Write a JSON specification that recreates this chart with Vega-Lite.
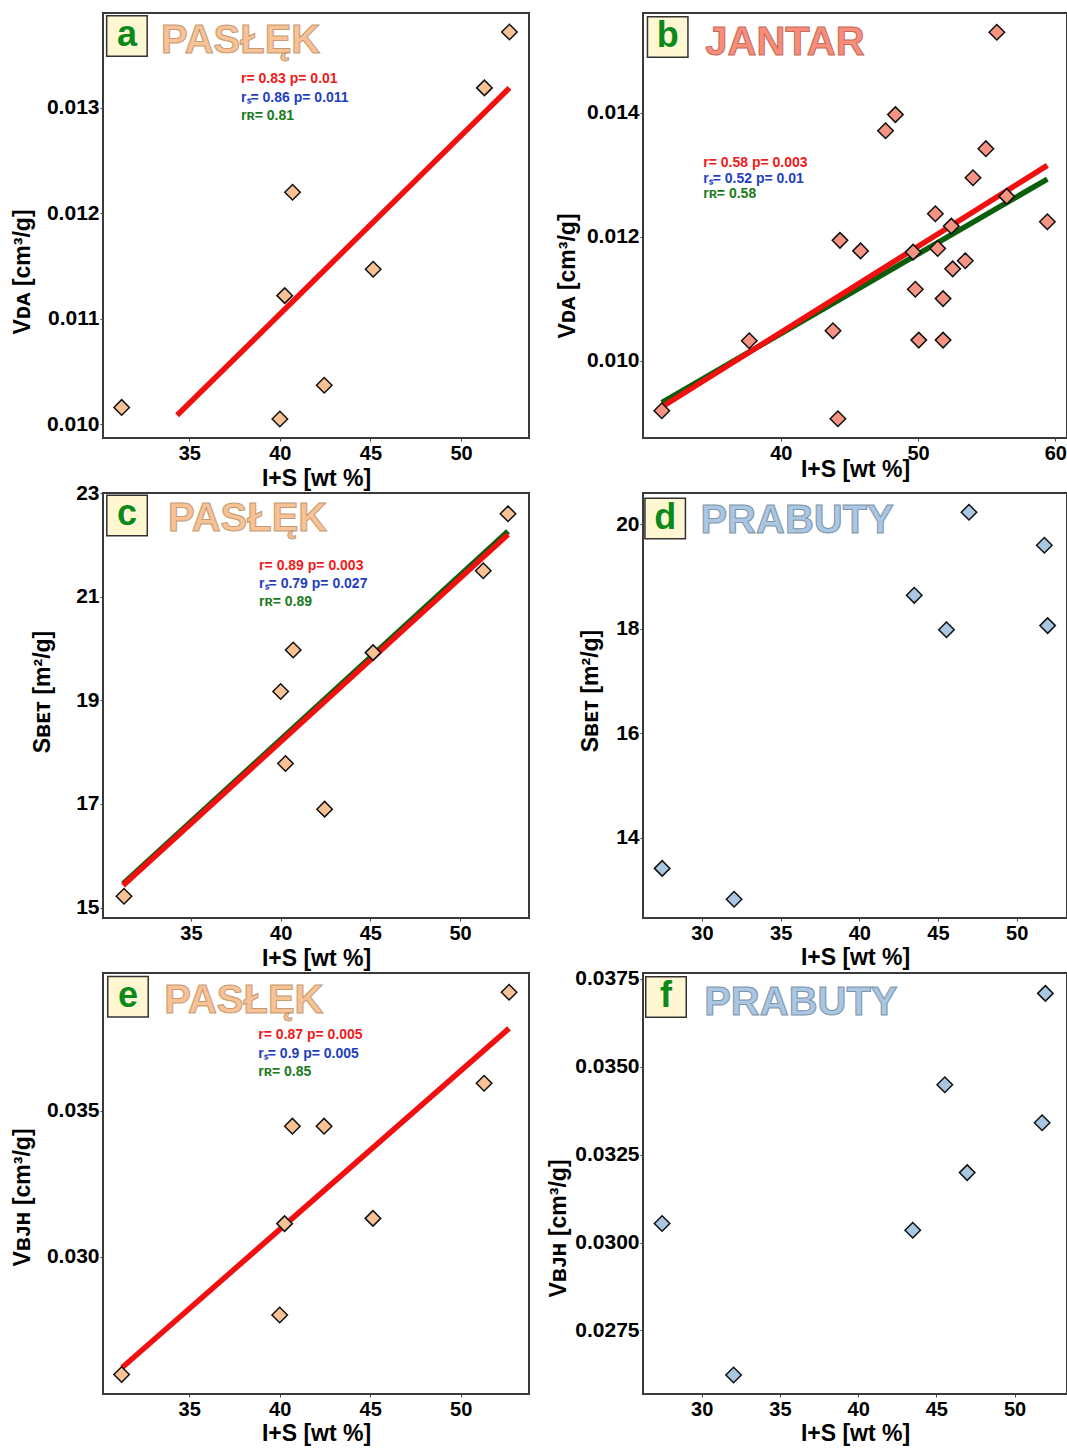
{
  "$schema": "https://vega.github.io/schema/vega-lite/v6.json",
  "padding": {"left": 10, "top": 11, "right": 0, "bottom": 0},
  "background": "white",
  "datasets": {
    "paslek": [
      {"IS": 31.27, "VDA": 0.01016, "SBET": 15.22, "VBJH": 0.02596},
      {"IS": 40.0, "VDA": 0.01005, "SBET": 19.17, "VBJH": 0.0280},
      {"IS": 40.27, "VDA": 0.01122, "SBET": 17.78, "VBJH": 0.03113},
      {"IS": 40.7, "VDA": 0.0122, "SBET": 19.97, "VBJH": 0.03447},
      {"IS": 42.45, "VDA": 0.01037, "SBET": 16.90, "VBJH": 0.03447},
      {"IS": 45.15, "VDA": 0.01147, "SBET": 19.92, "VBJH": 0.03131},
      {"IS": 51.29, "VDA": 0.01319, "SBET": 21.5, "VBJH": 0.03594},
      {"IS": 52.67, "VDA": 0.01372, "SBET": 22.6, "VBJH": 0.03906}
    ],
    "jantar": [
      {"IS": 31.33, "VDA": 0.00919},
      {"IS": 37.7, "VDA": 0.01032},
      {"IS": 43.8, "VDA": 0.01048},
      {"IS": 44.16, "VDA": 0.00906},
      {"IS": 44.31, "VDA": 0.01194},
      {"IS": 45.81, "VDA": 0.01177},
      {"IS": 47.63, "VDA": 0.01371},
      {"IS": 48.35, "VDA": 0.01397},
      {"IS": 49.64, "VDA": 0.01175},
      {"IS": 49.8, "VDA": 0.01115},
      {"IS": 50.05, "VDA": 0.01033},
      {"IS": 51.26, "VDA": 0.01237},
      {"IS": 51.43, "VDA": 0.01181},
      {"IS": 51.82, "VDA": 0.01100},
      {"IS": 51.82, "VDA": 0.01033},
      {"IS": 52.42, "VDA": 0.01217},
      {"IS": 52.52, "VDA": 0.01148},
      {"IS": 53.44, "VDA": 0.01161},
      {"IS": 54.0, "VDA": 0.01295},
      {"IS": 54.94, "VDA": 0.01342},
      {"IS": 55.74, "VDA": 0.0153},
      {"IS": 56.46, "VDA": 0.01265},
      {"IS": 59.42, "VDA": 0.01224}
    ],
    "prabuty": [
      {"IS": 27.47, "SBET": 13.41, "VBJH": 0.03054},
      {"IS": 32.04, "SBET": 12.82, "VBJH": 0.02623},
      {"IS": 43.49, "SBET": 18.64, "VBJH": 0.03035},
      {"IS": 45.54, "SBET": 17.98, "VBJH": 0.03449},
      {"IS": 46.97, "SBET": 20.23, "VBJH": 0.03199},
      {"IS": 51.76, "SBET": 19.6, "VBJH": 0.03341},
      {"IS": 51.97, "SBET": 18.06, "VBJH": 0.03709}
    ],
    "fits": [
      {"panel": "a", "fit": "pearson", "x": 34.33, "y": 0.010085},
      {"panel": "a", "fit": "pearson", "x": 52.67, "y": 0.01319},
      {"panel": "b", "fit": "robust", "x": 31.33, "y": 0.00932},
      {"panel": "b", "fit": "robust", "x": 59.42, "y": 0.01293},
      {"panel": "b", "fit": "pearson", "x": 31.33, "y": 0.00925},
      {"panel": "b", "fit": "pearson", "x": 59.42, "y": 0.01315},
      {"panel": "c", "fit": "robust", "x": 31.22, "y": 15.46},
      {"panel": "c", "fit": "robust", "x": 52.67, "y": 22.26},
      {"panel": "c", "fit": "pearson", "x": 31.22, "y": 15.43},
      {"panel": "c", "fit": "pearson", "x": 52.67, "y": 22.2},
      {"panel": "e", "fit": "pearson", "x": 31.3, "y": 0.0262},
      {"panel": "e", "fit": "pearson", "x": 52.67, "y": 0.03782}
    ]
  },
  "config": {
    "view": {"stroke": "#3a3a3a", "strokeWidth": 2},
    "axis": {
      "grid": false, "domain": false, "tickColor": "#444", "tickSize": 3, "tickWidth": 1,
      "labelFont": "Liberation Sans", "labelFontSize": 21, "labelFontWeight": "bold", "labelColor": "#000",
      "titleFont": "Liberation Sans", "titleFontWeight": "bold", "titleColor": "#000", "titleFontSize": 23,
      "labelPadding": 2, "labelOverlap": false, "labelFlush": false
    },
    "axisX": {"labelFontSize": 20},
    "axisY": {"labelPadding": 1},
    "text": {"font": "Liberation Sans", "fontWeight": "bold"}
  },
  "columns": 2,
  "bounds": "flush",
  "spacing": {"row": 55, "column": 114},
  "concat": [
    {
      "width": 426, "height": 425,
      "layer": [
        {"data": {"name": "fits"}, "transform": [{"filter": "datum.panel == 'a' && datum.fit == 'pearson'"}],
         "mark": {"type": "line", "color": "#f01010", "strokeWidth": 5.5, "strokeCap": "butt"},
         "encoding": {
           "x": {"field": "x", "type": "quantitative", "title": "I+S [wt %]", "scale": {"domain": [30.24, 53.75], "nice": false, "zero": false},
                 "axis": {"values": [35, 40, 45, 50], "titlePadding": 4}},
           "y": {"field": "y", "type": "quantitative", "title": "Vᴅᴀ [cm³/g]", "scale": {"domain": [0.00987, 0.0139], "nice": false, "zero": false},
                 "axis": {"values": [0.010, 0.011, 0.012, 0.013], "format": ".3f", "titlePadding": 11.5, "titleY": 258.5}}
         }},
        {"data": {"name": "paslek"},
         "mark": {"type": "point", "shape": "diamond", "size": 240, "filled": true, "fill": "#F8C294", "stroke": "#111", "strokeWidth": 1.5, "opacity": 1},
         "encoding": {
           "x": {"field": "IS", "type": "quantitative", "title": "I+S [wt %]", "scale": {"domain": [30.24, 53.75], "nice": false, "zero": false}},
           "y": {"field": "VDA", "type": "quantitative", "title": "Vᴅᴀ [cm³/g]", "scale": {"domain": [0.00987, 0.0139], "nice": false, "zero": false}}
         }},
        {"data": {"values": [{}]},
         "mark": {"type": "point", "shape": "square", "size": 1640, "filled": true, "fill": "#FFF6D2", "stroke": "#333", "strokeWidth": 1.5, "opacity": 1},
         "encoding": {"x": {"datum": 31.56, "type": "quantitative", "title": "I+S [wt %]"}, "y": {"datum": 0.013682, "type": "quantitative", "title": "Vᴅᴀ [cm³/g]"}}},
        {"data": {"values": [{}]},
         "mark": {"type": "text", "text": "a", "fontSize": 36, "color": "#0B8A1B", "align": "center", "baseline": "alphabetic", "dy": 10},
         "encoding": {"x": {"datum": 31.56, "type": "quantitative", "title": "I+S [wt %]"}, "y": {"datum": 0.013682, "type": "quantitative", "title": "Vᴅᴀ [cm³/g]"}}},
        {"data": {"values": [{}]},
         "mark": {"type": "text", "text": "PASŁĘK", "fontSize": 40, "fill": "#F8C294", "stroke": "#C49A74", "strokeWidth": 1, "align": "left", "baseline": "alphabetic"},
         "encoding": {"x": {"datum": 33.44, "type": "quantitative", "title": "I+S [wt %]"}, "y": {"datum": 0.013521, "type": "quantitative", "title": "Vᴅᴀ [cm³/g]"}}},
        {"data": {"values": [{}]},
         "mark": {"type": "text", "text": "r= 0.83 p= 0.01", "fontSize": 14, "color": "#F01A1A", "align": "left", "baseline": "alphabetic"},
         "encoding": {"x": {"datum": 37.86, "type": "quantitative", "title": "I+S [wt %]"}, "y": {"datum": 0.013236, "type": "quantitative", "title": "Vᴅᴀ [cm³/g]"}}},
        {"data": {"values": [{}]},
         "mark": {"type": "text", "text": "rₛ= 0.86 p= 0.011", "fontSize": 14, "color": "#1F3FBF", "align": "left", "baseline": "alphabetic"},
         "encoding": {"x": {"datum": 37.86, "type": "quantitative", "title": "I+S [wt %]"}, "y": {"datum": 0.013056, "type": "quantitative", "title": "Vᴅᴀ [cm³/g]"}}},
        {"data": {"values": [{}]},
         "mark": {"type": "text", "text": "rʀ= 0.81", "fontSize": 14, "color": "#1A7A1A", "align": "left", "baseline": "alphabetic"},
         "encoding": {"x": {"datum": 37.86, "type": "quantitative", "title": "I+S [wt %]"}, "y": {"datum": 0.012885, "type": "quantitative", "title": "Vᴅᴀ [cm³/g]"}}}
      ]
    },
    {
      "width": 424, "height": 425,
      "layer": [
        {"data": {"name": "fits"}, "transform": [{"filter": "datum.panel == 'b' && datum.fit == 'robust'"}],
         "mark": {"type": "line", "color": "#0B5E0B", "strokeWidth": 5.5, "strokeCap": "butt"},
         "encoding": {
           "x": {"field": "x", "type": "quantitative", "title": "I+S [wt %]", "scale": {"domain": [29.96, 60.85], "nice": false, "zero": false},
                 "axis": {"values": [40, 50, 60], "titlePadding": -5}},
           "y": {"field": "y", "type": "quantitative", "title": "Vᴅᴀ [cm³/g]", "scale": {"domain": [0.00875, 0.01561], "nice": false, "zero": false},
                 "axis": {"values": [0.010, 0.012, 0.014], "format": ".3f", "titlePadding": 6.5, "titleY": 262.5}}
         }},
        {"data": {"name": "fits"}, "transform": [{"filter": "datum.panel == 'b' && datum.fit == 'pearson'"}],
         "mark": {"type": "line", "color": "#f01010", "strokeWidth": 5.5, "strokeCap": "butt"},
         "encoding": {
           "x": {"field": "x", "type": "quantitative", "title": "I+S [wt %]", "scale": {"domain": [29.96, 60.85], "nice": false, "zero": false}},
           "y": {"field": "y", "type": "quantitative", "title": "Vᴅᴀ [cm³/g]", "scale": {"domain": [0.00875, 0.01561], "nice": false, "zero": false}}
         }},
        {"data": {"name": "jantar"},
         "mark": {"type": "point", "shape": "diamond", "size": 240, "filled": true, "fill": "#F79382", "stroke": "#111", "strokeWidth": 1.5, "opacity": 1},
         "encoding": {
           "x": {"field": "IS", "type": "quantitative", "title": "I+S [wt %]", "scale": {"domain": [29.96, 60.85], "nice": false, "zero": false}},
           "y": {"field": "VDA", "type": "quantitative", "title": "Vᴅᴀ [cm³/g]", "scale": {"domain": [0.00875, 0.01561], "nice": false, "zero": false}}
         }},
        {"data": {"values": [{}]},
         "mark": {"type": "point", "shape": "square", "size": 1640, "filled": true, "fill": "#FFF6D2", "stroke": "#333", "strokeWidth": 1.5, "opacity": 1},
         "encoding": {"x": {"datum": 31.76, "type": "quantitative", "title": "I+S [wt %]"}, "y": {"datum": 0.015224, "type": "quantitative", "title": "Vᴅᴀ [cm³/g]"}}},
        {"data": {"values": [{}]},
         "mark": {"type": "text", "text": "b", "fontSize": 36, "color": "#0B8A1B", "align": "center", "baseline": "alphabetic", "dy": 10},
         "encoding": {"x": {"datum": 31.76, "type": "quantitative", "title": "I+S [wt %]"}, "y": {"datum": 0.015224, "type": "quantitative", "title": "Vᴅᴀ [cm³/g]"}}},
        {"data": {"values": [{}]},
         "mark": {"type": "text", "text": "JANTAR", "fontSize": 40, "fill": "#F88E7A", "stroke": "#C46A5A", "strokeWidth": 1, "align": "left", "baseline": "alphabetic"},
         "encoding": {"x": {"datum": 34.5, "type": "quantitative", "title": "I+S [wt %]"}, "y": {"datum": 0.014935, "type": "quantitative", "title": "Vᴅᴀ [cm³/g]"}}},
        {"data": {"values": [{}]},
         "mark": {"type": "text", "text": "r= 0.58 p= 0.003", "fontSize": 14, "color": "#F01A1A", "align": "left", "baseline": "alphabetic"},
         "encoding": {"x": {"datum": 34.35, "type": "quantitative", "title": "I+S [wt %]"}, "y": {"datum": 0.01312, "type": "quantitative", "title": "Vᴅᴀ [cm³/g]"}}},
        {"data": {"values": [{}]},
         "mark": {"type": "text", "text": "rₛ= 0.52 p= 0.01", "fontSize": 14, "color": "#1F3FBF", "align": "left", "baseline": "alphabetic"},
         "encoding": {"x": {"datum": 34.35, "type": "quantitative", "title": "I+S [wt %]"}, "y": {"datum": 0.012863, "type": "quantitative", "title": "Vᴅᴀ [cm³/g]"}}},
        {"data": {"values": [{}]},
         "mark": {"type": "text", "text": "rʀ= 0.58", "fontSize": 14, "color": "#1A7A1A", "align": "left", "baseline": "alphabetic"},
         "encoding": {"x": {"datum": 34.35, "type": "quantitative", "title": "I+S [wt %]"}, "y": {"datum": 0.012622, "type": "quantitative", "title": "Vᴅᴀ [cm³/g]"}}}
      ]
    },
    {
      "width": 426, "height": 425,
      "layer": [
        {"data": {"name": "fits"}, "transform": [{"filter": "datum.panel == 'c' && datum.fit == 'robust'"}],
         "mark": {"type": "line", "color": "#0B5E0B", "strokeWidth": 5.5, "strokeCap": "butt"},
         "encoding": {
           "x": {"field": "x", "type": "quantitative", "title": "I+S [wt %]", "scale": {"domain": [30.1, 53.84], "nice": false, "zero": false},
                 "axis": {"values": [35, 40, 45, 50], "titlePadding": 4}},
           "y": {"field": "y", "type": "quantitative", "title": "Sʙᴇᴛ [m²/g]", "scale": {"domain": [14.8, 23.0], "nice": false, "zero": false},
                 "axis": {"values": [15, 17, 19, 21, 23], "format": "d", "titlePadding": 21, "titleY": 198.5}}
         }},
        {"data": {"name": "fits"}, "transform": [{"filter": "datum.panel == 'c' && datum.fit == 'pearson'"}],
         "mark": {"type": "line", "color": "#f01010", "strokeWidth": 5.5, "strokeCap": "butt"},
         "encoding": {
           "x": {"field": "x", "type": "quantitative", "title": "I+S [wt %]", "scale": {"domain": [30.1, 53.84], "nice": false, "zero": false}},
           "y": {"field": "y", "type": "quantitative", "title": "Sʙᴇᴛ [m²/g]", "scale": {"domain": [14.8, 23.0], "nice": false, "zero": false}}
         }},
        {"data": {"name": "paslek"},
         "mark": {"type": "point", "shape": "diamond", "size": 240, "filled": true, "fill": "#F8C294", "stroke": "#111", "strokeWidth": 1.5, "opacity": 1},
         "encoding": {
           "x": {"field": "IS", "type": "quantitative", "title": "I+S [wt %]", "scale": {"domain": [30.1, 53.84], "nice": false, "zero": false}},
           "y": {"field": "SBET", "type": "quantitative", "title": "Sʙᴇᴛ [m²/g]", "scale": {"domain": [14.8, 23.0], "nice": false, "zero": false}}
         }},
        {"data": {"values": [{}]},
         "mark": {"type": "point", "shape": "square", "size": 1640, "filled": true, "fill": "#FFF6D2", "stroke": "#333", "strokeWidth": 1.5, "opacity": 1},
         "encoding": {"x": {"datum": 31.44, "type": "quantitative", "title": "I+S [wt %]"}, "y": {"datum": 22.566, "type": "quantitative", "title": "Sʙᴇᴛ [m²/g]"}}},
        {"data": {"values": [{}]},
         "mark": {"type": "text", "text": "c", "fontSize": 36, "color": "#0B8A1B", "align": "center", "baseline": "alphabetic", "dy": 10},
         "encoding": {"x": {"datum": 31.44, "type": "quantitative", "title": "I+S [wt %]"}, "y": {"datum": 22.566, "type": "quantitative", "title": "Sʙᴇᴛ [m²/g]"}}},
        {"data": {"values": [{}]},
         "mark": {"type": "text", "text": "PASŁĘK", "fontSize": 40, "fill": "#F8C294", "stroke": "#C49A74", "strokeWidth": 1, "align": "left", "baseline": "alphabetic"},
         "encoding": {"x": {"datum": 33.72, "type": "quantitative", "title": "I+S [wt %]"}, "y": {"datum": 22.267, "type": "quantitative", "title": "Sʙᴇᴛ [m²/g]"}}},
        {"data": {"values": [{}]},
         "mark": {"type": "text", "text": "r= 0.89 p= 0.003", "fontSize": 14, "color": "#F01A1A", "align": "left", "baseline": "alphabetic"},
         "encoding": {"x": {"datum": 38.8, "type": "quantitative", "title": "I+S [wt %]"}, "y": {"datum": 21.514, "type": "quantitative", "title": "Sʙᴇᴛ [m²/g]"}}},
        {"data": {"values": [{}]},
         "mark": {"type": "text", "text": "rₛ= 0.79 p= 0.027", "fontSize": 14, "color": "#1F3FBF", "align": "left", "baseline": "alphabetic"},
         "encoding": {"x": {"datum": 38.8, "type": "quantitative", "title": "I+S [wt %]"}, "y": {"datum": 21.167, "type": "quantitative", "title": "Sʙᴇᴛ [m²/g]"}}},
        {"data": {"values": [{}]},
         "mark": {"type": "text", "text": "rʀ= 0.89", "fontSize": 14, "color": "#1A7A1A", "align": "left", "baseline": "alphabetic"},
         "encoding": {"x": {"datum": 38.8, "type": "quantitative", "title": "I+S [wt %]"}, "y": {"datum": 20.82, "type": "quantitative", "title": "Sʙᴇᴛ [m²/g]"}}}
      ]
    },
    {
      "width": 424, "height": 425,
      "layer": [
        {"data": {"name": "prabuty"},
         "mark": {"type": "point", "shape": "diamond", "size": 240, "filled": true, "fill": "#A9C6E2", "stroke": "#111", "strokeWidth": 1.5, "opacity": 1},
         "encoding": {
           "x": {"field": "IS", "type": "quantitative", "title": "I+S [wt %]", "scale": {"domain": [26.25, 53.2], "nice": false, "zero": false},
                 "axis": {"values": [30, 35, 40, 45, 50], "titlePadding": 3}},
           "y": {"field": "SBET", "type": "quantitative", "title": "Sʙᴇᴛ [m²/g]", "scale": {"domain": [12.46, 20.6], "nice": false, "zero": false},
                 "axis": {"values": [14, 16, 18, 20], "format": "d", "titlePadding": 13, "titleY": 197.5}}
         }},
        {"data": {"values": [{}]},
         "mark": {"type": "point", "shape": "square", "size": 1640, "filled": true, "fill": "#FFF6D2", "stroke": "#333", "strokeWidth": 1.5, "opacity": 1},
         "encoding": {"x": {"datum": 27.66, "type": "quantitative", "title": "I+S [wt %]"}, "y": {"datum": 20.11, "type": "quantitative", "title": "Sʙᴇᴛ [m²/g]"}}},
        {"data": {"values": [{}]},
         "mark": {"type": "text", "text": "d", "fontSize": 36, "color": "#0B8A1B", "align": "center", "baseline": "alphabetic", "dy": 10},
         "encoding": {"x": {"datum": 27.66, "type": "quantitative", "title": "I+S [wt %]"}, "y": {"datum": 20.11, "type": "quantitative", "title": "Sʙᴇᴛ [m²/g]"}}},
        {"data": {"values": [{}]},
         "mark": {"type": "text", "text": "PRABUTY", "fontSize": 40, "fill": "#A9C6E2", "stroke": "#7F93A8", "strokeWidth": 1, "align": "left", "baseline": "alphabetic"},
         "encoding": {"x": {"datum": 29.9, "type": "quantitative", "title": "I+S [wt %]"}, "y": {"datum": 19.832, "type": "quantitative", "title": "Sʙᴇᴛ [m²/g]"}}}
      ]
    },
    {
      "width": 426, "height": 421,
      "layer": [
        {"data": {"name": "fits"}, "transform": [{"filter": "datum.panel == 'e' && datum.fit == 'pearson'"}],
         "mark": {"type": "line", "color": "#f01010", "strokeWidth": 5.5, "strokeCap": "butt"},
         "encoding": {
           "x": {"field": "x", "type": "quantitative", "title": "I+S [wt %]", "scale": {"domain": [30.24, 53.77], "nice": false, "zero": false},
                 "axis": {"values": [35, 40, 45, 50], "titlePadding": 3}},
           "y": {"field": "y", "type": "quantitative", "title": "Vʙᴊʜ [cm³/g]", "scale": {"domain": [0.025293, 0.039718], "nice": false, "zero": false},
                 "axis": {"values": [0.030, 0.035], "format": ".3f", "titlePadding": 11.5, "titleY": 224}}
         }},
        {"data": {"name": "paslek"},
         "mark": {"type": "point", "shape": "diamond", "size": 240, "filled": true, "fill": "#F8C294", "stroke": "#111", "strokeWidth": 1.5, "opacity": 1},
         "encoding": {
           "x": {"field": "IS", "type": "quantitative", "title": "I+S [wt %]", "scale": {"domain": [30.24, 53.77], "nice": false, "zero": false}},
           "y": {"field": "VBJH", "type": "quantitative", "title": "Vʙᴊʜ [cm³/g]", "scale": {"domain": [0.025293, 0.039718], "nice": false, "zero": false}}
         }},
        {"data": {"values": [{}]},
         "mark": {"type": "point", "shape": "square", "size": 1640, "filled": true, "fill": "#FFF6D2", "stroke": "#333", "strokeWidth": 1.5, "opacity": 1},
         "encoding": {"x": {"datum": 31.62, "type": "quantitative", "title": "I+S [wt %]"}, "y": {"datum": 0.038903, "type": "quantitative", "title": "Vʙᴊʜ [cm³/g]"}}},
        {"data": {"values": [{}]},
         "mark": {"type": "text", "text": "e", "fontSize": 36, "color": "#0B8A1B", "align": "center", "baseline": "alphabetic", "dy": 10},
         "encoding": {"x": {"datum": 31.62, "type": "quantitative", "title": "I+S [wt %]"}, "y": {"datum": 0.038903, "type": "quantitative", "title": "Vʙᴊʜ [cm³/g]"}}},
        {"data": {"values": [{}]},
         "mark": {"type": "text", "text": "PASŁĘK", "fontSize": 40, "fill": "#F8C294", "stroke": "#C49A74", "strokeWidth": 1, "align": "left", "baseline": "alphabetic"},
         "encoding": {"x": {"datum": 33.62, "type": "quantitative", "title": "I+S [wt %]"}, "y": {"datum": 0.03836, "type": "quantitative", "title": "Vʙᴊʜ [cm³/g]"}}},
        {"data": {"values": [{}]},
         "mark": {"type": "text", "text": "r= 0.87 p= 0.005", "fontSize": 14, "color": "#F01A1A", "align": "left", "baseline": "alphabetic"},
         "encoding": {"x": {"datum": 38.82, "type": "quantitative", "title": "I+S [wt %]"}, "y": {"datum": 0.037444, "type": "quantitative", "title": "Vʙᴊʜ [cm³/g]"}}},
        {"data": {"values": [{}]},
         "mark": {"type": "text", "text": "rₛ= 0.9 p= 0.005", "fontSize": 14, "color": "#1F3FBF", "align": "left", "baseline": "alphabetic"},
         "encoding": {"x": {"datum": 38.82, "type": "quantitative", "title": "I+S [wt %]"}, "y": {"datum": 0.036799, "type": "quantitative", "title": "Vʙᴊʜ [cm³/g]"}}},
        {"data": {"values": [{}]},
         "mark": {"type": "text", "text": "rʀ= 0.85", "fontSize": 14, "color": "#1A7A1A", "align": "left", "baseline": "alphabetic"},
         "encoding": {"x": {"datum": 38.82, "type": "quantitative", "title": "I+S [wt %]"}, "y": {"datum": 0.036188, "type": "quantitative", "title": "Vʙᴊʜ [cm³/g]"}}}
      ]
    },
    {
      "width": 424, "height": 421,
      "layer": [
        {"data": {"name": "prabuty"},
         "mark": {"type": "point", "shape": "diamond", "size": 240, "filled": true, "fill": "#A9C6E2", "stroke": "#111", "strokeWidth": 1.5, "opacity": 1},
         "encoding": {
           "x": {"field": "IS", "type": "quantitative", "title": "I+S [wt %]", "scale": {"domain": [26.25, 53.35], "nice": false, "zero": false},
                 "axis": {"values": [30, 35, 40, 45, 50], "titlePadding": 3}},
           "y": {"field": "VBJH", "type": "quantitative", "title": "Vʙᴊʜ [cm³/g]", "scale": {"domain": [0.02569, 0.03767], "nice": false, "zero": false},
                 "axis": {"values": [0.0275, 0.03, 0.0325, 0.035, 0.0375], "format": ".4f", "titlePadding": 4, "titleY": 255}}
         }},
        {"data": {"values": [{}]},
         "mark": {"type": "point", "shape": "square", "size": 1640, "filled": true, "fill": "#FFF6D2", "stroke": "#333", "strokeWidth": 1.5, "opacity": 1},
         "encoding": {"x": {"datum": 27.72, "type": "quantitative", "title": "I+S [wt %]"}, "y": {"datum": 0.036984, "type": "quantitative", "title": "Vʙᴊʜ [cm³/g]"}}},
        {"data": {"values": [{}]},
         "mark": {"type": "text", "text": "f", "fontSize": 36, "color": "#0B8A1B", "align": "center", "baseline": "alphabetic", "dy": 10},
         "encoding": {"x": {"datum": 27.72, "type": "quantitative", "title": "I+S [wt %]"}, "y": {"datum": 0.036984, "type": "quantitative", "title": "Vʙᴊʜ [cm³/g]"}}},
        {"data": {"values": [{}]},
         "mark": {"type": "text", "text": "PRABUTY", "fontSize": 40, "fill": "#A9C6E2", "stroke": "#7F93A8", "strokeWidth": 1, "align": "left", "baseline": "alphabetic"},
         "encoding": {"x": {"datum": 30.16, "type": "quantitative", "title": "I+S [wt %]"}, "y": {"datum": 0.036467, "type": "quantitative", "title": "Vʙᴊʜ [cm³/g]"}}}
      ]
    }
  ]
}
